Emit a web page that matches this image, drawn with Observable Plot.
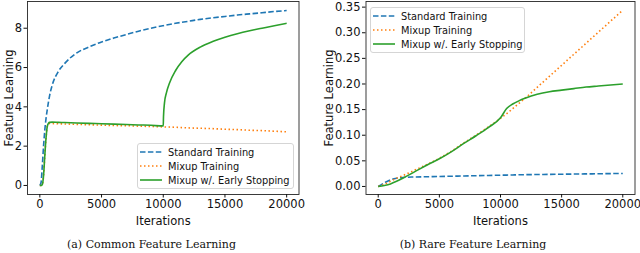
<!DOCTYPE html>
<html>
<head>
<meta charset="utf-8">
<script src="https://cdn.jsdelivr.net/npm/d3@7"></script>
<script src="https://cdn.jsdelivr.net/npm/@observablehq/plot@0.6"></script>
<style>
  body { margin: 0; background: #fff; }
  #wrap { position: relative; width: 640px; height: 253px; overflow: hidden; font-family: "DejaVu Sans", sans-serif; }
  .panel { position: absolute; top: 0; }
  .legend { position: absolute; border: 1px solid #d5d5d5; border-radius: 3px; background: rgba(255,255,255,0.85); font-size: 9.8px; color: #111; padding: 1px 2px 1px 2px; box-sizing: border-box; }
  .legend .row { display: flex; align-items: center; height: 14px; white-space: nowrap; }
  .legend svg { margin-right: 6px; flex-shrink: 0; }
  .caption { position: absolute; top: 238px; font-family: "DejaVu Serif", serif; font-size: 11px; color: #111; text-align: center; width: 320px; }
</style>
</head>
<body>
<div id="wrap"></div>
<script>
// ---- Data: (a) Common Feature Learning ----
const iterCommon = [0,100,200,300,400,500,600,700,800,1000,1500,2000,3000,4000,5000,6000,7000,8000,9000,10000,11000,12000,13000,14000,15000,16000,17000,18000,19000,20000];
const standardCommon = [0,0.15,1.0,2.0,2.8,3.4,3.85,4.25,4.6,5.1,5.8,6.2,6.75,7.05,7.3,7.5,7.68,7.85,8.0,8.13,8.25,8.35,8.45,8.53,8.6,8.67,8.73,8.79,8.85,8.9];
const mixupCommon = [0,0,0.05,0.5,1.5,2.4,3.0,3.12,3.15,3.15,3.14,3.13,3.11,3.09,3.07,3.05,3.04,3.02,3.0,2.98,2.96,2.93,2.91,2.89,2.86,2.84,2.81,2.79,2.76,2.73];
const iterEarlyCommon = [0,100,200,300,400,500,600,700,800,1000,1500,2000,3000,4000,5000,6000,7000,8000,9000,10000,10020,10100,10250,10500,11000,11500,12000,13000,14000,15000,16000,17000,18000,19000,20000];
const earlyCommon = [0,0,0.05,0.5,1.5,2.4,3.0,3.17,3.21,3.22,3.21,3.2,3.18,3.16,3.14,3.12,3.1,3.08,3.06,3.03,3.5,4.2,4.7,5.2,5.85,6.3,6.62,7.04,7.32,7.54,7.72,7.87,8.0,8.13,8.25];

// ---- Data: (b) Rare Feature Learning ----
const iterRare = [0,500,1000,1500,2000,3000,4000,5000,6000,7000,8000,9000,10000,10500,11000,11500,12000,13000,14000,15000,16000,17000,18000,19000,20000];
const standardRare = [0,0.007,0.013,0.016,0.0175,0.0185,0.019,0.0195,0.02,0.0205,0.021,0.0215,0.022,0.0222,0.0225,0.0228,0.023,0.0233,0.0236,0.0239,0.0242,0.0245,0.0248,0.0251,0.0254];
const mixupRare = [0,0.004,0.01,0.016,0.021,0.032,0.043,0.055,0.069,0.085,0.1,0.116,0.133,0.142,0.152,0.162,0.172,0.1935,0.215,0.2365,0.258,0.2795,0.301,0.3225,0.344];
const earlyRare = [0,0.002,0.005,0.01,0.016,0.029,0.042,0.054,0.068,0.084,0.099,0.115,0.134,0.152,0.161,0.167,0.172,0.18,0.185,0.188,0.191,0.194,0.196,0.198,0.2];

// ---- Labels ----
const seriesNames = ["Standard Training", "Mixup Training", "Mixup w/. Early Stopping"];
const seriesColors = ["#1f77b4", "#ff7f0e", "#2ca02c"];
const seriesDash = ["5.5,2.4", "1.5,2.5", null];
const xTicks = [0, 5000, 10000, 15000, 20000];
const yTicksCommon = [0, 2, 4, 6, 8];
const yTicksRare = [0, 0.05, 0.10, 0.15, 0.20, 0.25, 0.30, 0.35];
const captions = ["(a) Common Feature Learning", "(b) Rare Feature Learning"];
const xLabel = "Iterations";
const yLabel = "Feature Learning";

const toRows = (xs, ys) => xs.map((x, i) => ({x, y: ys[i]}));

function panel({series, yDomain, yTicks, yFormat, mLeft, mRight, labelOffsetY}) {
  const marks = [];
  series.forEach((s, k) => {
    marks.push(Plot.line(s, {x: "x", y: "y", stroke: seriesColors[k], strokeWidth: 1.6,
      strokeDasharray: seriesDash[k], curve: "monotone-x", strokeLinecap: "butt"}));
  });
  marks.push(Plot.frame({stroke: "#262626", strokeWidth: 0.9}));
  marks.push(Plot.axisX(xTicks, {tickSize: 3.5, tickPadding: 2, tickFormat: d3.format("d"),
    label: xLabel, labelAnchor: "center", labelArrow: "none", labelOffset: 30, fontSize: 11.5, color: "#111"}));
  marks.push(Plot.axisY(yTicks, {tickSize: 3.5, tickPadding: 2, tickFormat: yFormat,
    label: yLabel, labelAnchor: "center", labelArrow: "none", labelOffset: labelOffsetY, fontSize: 11.5, color: "#111"}));
  return Plot.plot({
    width: 320, height: 230,
    marginLeft: mLeft, marginRight: mRight, marginTop: 1, marginBottom: 36,
    x: {domain: [-1000, 21000]},
    y: {domain: yDomain},
    style: {fontFamily: "DejaVu Sans, sans-serif", fontSize: "11.5px", color: "#111", background: "transparent"},
    marks
  });
}

const wrap = document.getElementById("wrap");

const p1 = panel({
  series: [toRows(iterCommon, standardCommon), toRows(iterCommon, mixupCommon), toRows(iterEarlyCommon, earlyCommon)],
  yDomain: [-0.46, 9.36], yTicks: yTicksCommon, yFormat: d3.format("d"),
  mLeft: 27, mRight: 21.5, labelOffsetY: 23
});
p1.classList.add("panel"); p1.style.left = "0px";
wrap.appendChild(p1);

const p2 = panel({
  series: [toRows(iterRare, standardRare), toRows(iterRare, mixupRare), toRows(iterRare, earlyRare)],
  yDomain: [-0.0157, 0.361], yTicks: yTicksRare, yFormat: d3.format(".2f"),
  mLeft: 45.5, mRight: 5.5, labelOffsetY: 41
});
p2.classList.add("panel"); p2.style.left = "320px";
wrap.appendChild(p2);

function legend(left, top, width) {
  const d = document.createElement("div");
  d.className = "legend";
  d.style.left = left + "px"; d.style.top = top + "px"; d.style.width = width + "px";
  seriesNames.forEach((name, k) => {
    const row = document.createElement("div");
    row.className = "row";
    row.innerHTML = `<svg width="22" height="6"><line x1="0" y1="3" x2="22" y2="3" stroke="${seriesColors[k]}" stroke-width="1.6" ${seriesDash[k] ? `stroke-dasharray="${seriesDash[k]}"` : ""}/></svg><span>${name}</span>`;
    d.appendChild(row);
  });
  wrap.appendChild(d);
}
legend(137, 143, 157);
legend(370, 7, 155);

captions.forEach((c, i) => {
  const d = document.createElement("div");
  d.className = "caption";
  d.textContent = c;
  d.style.left = (i === 0 ? 151.5 - 160 : 473 - 160) + "px";
  wrap.appendChild(d);
});
</script>
</body>
</html>
